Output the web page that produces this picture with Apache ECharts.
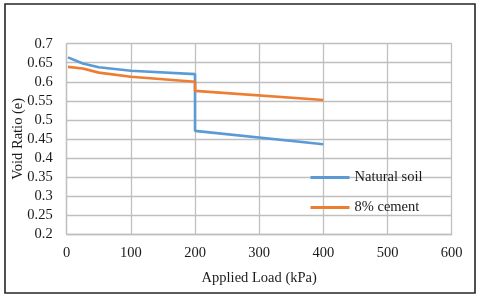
<!DOCTYPE html>
<html>
<head>
<meta charset="utf-8">
<script src="https://cdn.jsdelivr.net/npm/echarts@6/dist/echarts.min.js"></script>
<style>html,body{margin:0;padding:0;background:#fff}#c{width:480px;height:297px}</style>
</head>
<body>
<div id="c"></div>
<script>
const seriesNames = ['Natural soil', '8% cement'];
const naturalLoad = [2, 25, 50, 100, 200, 200, 400];
const naturalVoid = [0.664, 0.648, 0.638, 0.629, 0.620, 0.471, 0.436];
const cementLoad = [2, 25, 50, 100, 200, 200, 400];
const cementVoid = [0.639, 0.635, 0.624, 0.613, 0.600, 0.576, 0.552];
const xTicks = {min: 0, max: 600, interval: 100};
const yTicks = {min: 0.2, max: 0.7, interval: 0.05};

const font = 'Liberation Serif';
const txt = '#1a1a1a';
const chart = echarts.init(document.getElementById('c'), null, {renderer: 'canvas'});
chart.setOption({
  animation: false,
  backgroundColor: '#fff',
  textStyle: {fontFamily: font, color: txt},
  graphic: [{
    type: 'rect', shape: {x: 5, y: 4, width: 470, height: 289},
    style: {fill: 'none', stroke: '#262626', lineWidth: 1.6}, silent: true
  }],
  grid: {left: 66.7, right: 28.3, top: 43.7, bottom: 63, containLabel: false, outerBoundsMode: 'none'},
  legend: {
    orient: 'vertical', left: 305.5, top: 165, padding: 5,
    icon: 'rect', itemWidth: 39, itemHeight: 3, itemGap: 15, itemTextGap: 3,
    textStyle: {fontFamily: font, fontSize: 14.5, color: txt},
    data: seriesNames
  },
  xAxis: {
    type: 'value', min: xTicks.min, max: xTicks.max, interval: xTicks.interval,
    name: 'Applied Load (kPa)', nameLocation: 'middle', nameGap: 36.5,
    nameTextStyle: {fontFamily: font, fontSize: 14.5, color: txt},
    axisLine: {show: true, lineStyle: {color: '#bfbfbf', width: 1.3}},
    axisTick: {show: false},
    axisLabel: {fontFamily: font, fontSize: 14.5, color: txt, margin: 12},
    splitLine: {show: true, lineStyle: {color: '#bfbfbf', width: 1.3}}
  },
  yAxis: {
    type: 'value', min: yTicks.min, max: yTicks.max, interval: yTicks.interval,
    name: 'Void Ratio (e)', nameLocation: 'middle', nameGap: 41.5, nameMoveOverlap: false,
    nameTextStyle: {fontFamily: font, fontSize: 14.5, color: txt},
    axisLine: {show: true, lineStyle: {color: '#bfbfbf', width: 1.3}},
    axisTick: {show: false},
    axisLabel: {fontFamily: font, fontSize: 14.5, color: txt, margin: 14,
      formatter: v => String(Math.round(v * 100) / 100)},
    splitLine: {show: true, lineStyle: {color: '#bfbfbf', width: 1.3}}
  },
  series: [
    {name: seriesNames[0], type: 'line', showSymbol: false, symbol: 'none',
     data: naturalLoad.map((x, i) => [x, naturalVoid[i]]),
     lineStyle: {color: '#5b9bd5', width: 2.6}, itemStyle: {color: '#5b9bd5'}},
    {name: seriesNames[1], type: 'line', showSymbol: false, symbol: 'none',
     data: cementLoad.map((x, i) => [x, cementVoid[i]]),
     lineStyle: {color: '#ed7d31', width: 2.6}, itemStyle: {color: '#ed7d31'}}
  ]
});
</script>
</body>
</html>
